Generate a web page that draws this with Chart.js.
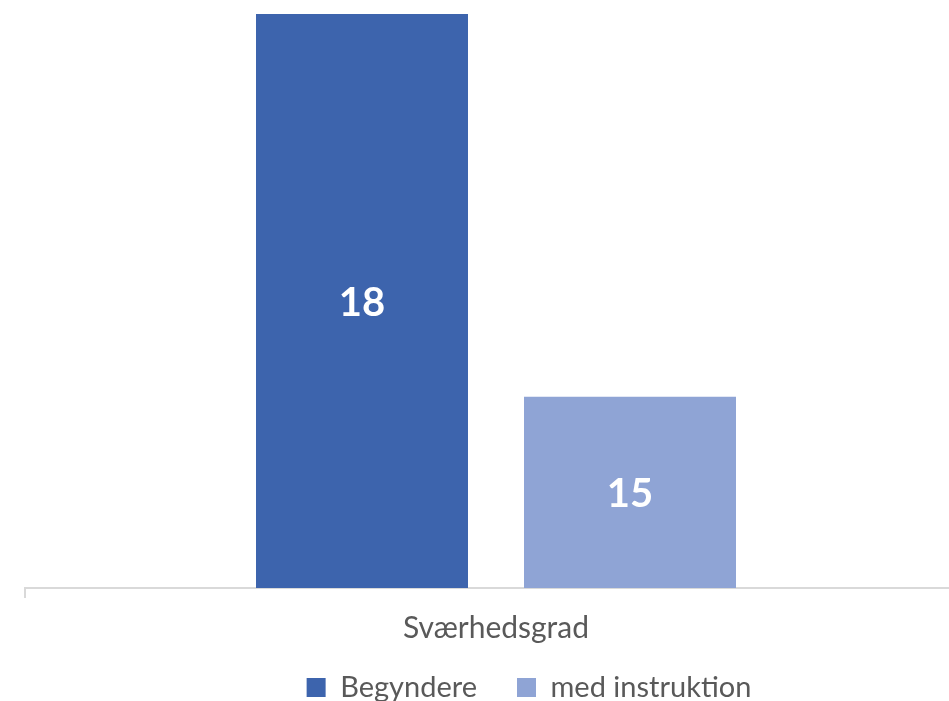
<!DOCTYPE html>
<html>
<head>
<meta charset="utf-8">
<script src="https://cdn.jsdelivr.net/npm/chart.js@4"></script>
<style>
  html, body { margin: 0; padding: 0; background: #fff; overflow: hidden; }
  #wrap { position: relative; width: 1033px; height: 701px; }
</style>
</head>
<body>
<div id="wrap"><canvas id="chart"></canvas></div>
<script>
const categories = ["Sværhedsgrad"];
const seriesNames = ["Begyndere", "med instruktion"];
const begyndere = [18];
const medInstruktion = [15];
const yMin = 13.5;
const yMax = 18;

const textGrey = '#595959';
const axisGrey = '#D9D9D9';

// white value labels in the middle of the visible part of each bar
const barLabels = {
  id: 'barLabels',
  afterDatasetsDraw(chart) {
    const ctx = chart.ctx;
    const bottom = chart.chartArea.bottom;
    ctx.save();
    ctx.fillStyle = '#ffffff';
    ctx.font = 'bold 40px Lato';
    ctx.textAlign = 'center';
    ctx.textBaseline = 'middle';
    chart.data.datasets.forEach((ds, i) => {
      chart.getDatasetMeta(i).data.forEach((bar, j) => {
        const base = Math.min(bar.base, bottom);
        ctx.fillText(String(ds.data[j]), bar.x, (bar.y + base) / 2 + 2);
      });
    });
    ctx.restore();
  }
};

// the x axis is kept short so the legend sits close; let its label draw below it
const xLabelRoom = {
  id: 'xLabelRoom',
  afterLayout(chart) {
    chart.scales.x.bottom = chart.height;
  }
};

new Chart(document.getElementById('chart'), {
  type: 'bar',
  data: {
    labels: categories,
    datasets: [{
      label: seriesNames[0],
      data: begyndere,
      backgroundColor: '#3D64AD',
      categoryPercentage: 0.569,
      barPercentage: 0.791
    }, {
      label: seriesNames[1],
      data: medInstruktion,
      backgroundColor: '#8FA4D5',
      categoryPercentage: 0.569,
      barPercentage: 0.791
    }]
  },
  options: {
    responsive: true,
    maintainAspectRatio: false,
    animation: false,
    layout: { padding: { top: 14, left: 25, right: 0, bottom: 0 } },
    plugins: {
      tooltip: { enabled: false },
      legend: {
        position: 'bottom',
        maxHeight: 68,
        labels: {
          color: textGrey,
          font: { family: 'Lato', size: 29 },
          boxWidth: 19,
          boxHeight: 19,
          padding: 40
        }
      }
    },
    scales: {
      x: {
        grid: {
          drawOnChartArea: false,
          color: axisGrey,
          lineWidth: 2,
          tickLength: 10
        },
        border: { color: axisGrey, width: 2 },
        ticks: {
          color: textGrey,
          font: { family: 'Lato', size: 30 },
          padding: 12
        },
        afterFit(scale) { scale.height = 45; }
      },
      y: {
        position: 'right',
        min: yMin,
        max: yMax,
        grid: { display: false },
        border: { display: false },
        ticks: { display: false },
        afterFit(scale) { scale.width = 66; }
      }
    }
  },
  plugins: [barLabels, xLabelRoom]
});
</script>
</body>
</html>
